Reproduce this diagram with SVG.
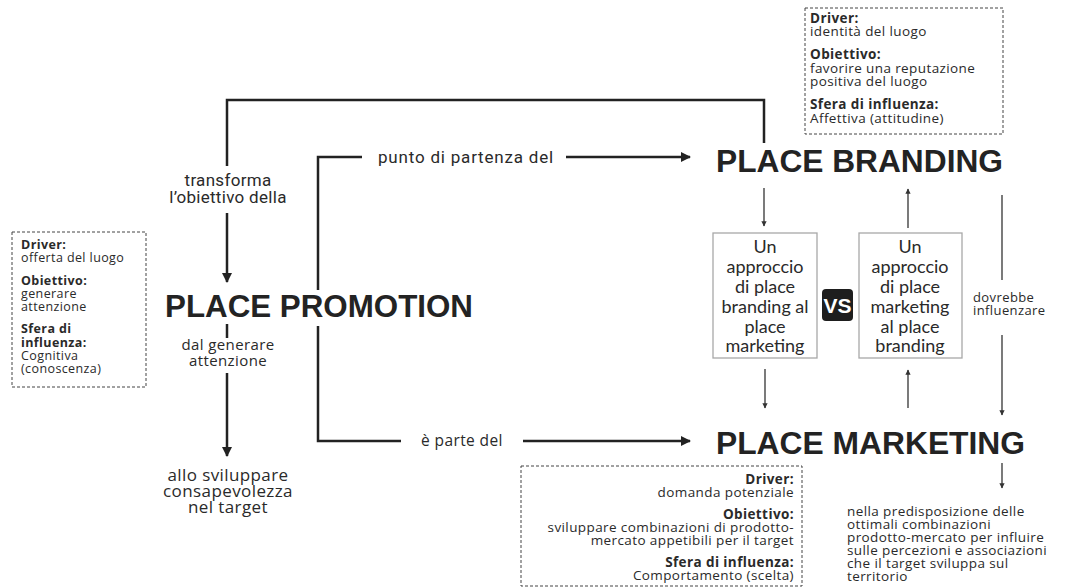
<svg xmlns="http://www.w3.org/2000/svg" width="1075" height="588" viewBox="0 0 1075 588">
<defs>
<style>
.t{font-family:"Open Sans","Noto Sans",sans-serif;fill:#2a2a2a;letter-spacing:0.4px;}
.r{font-family:Roboto,"Liberation Sans",sans-serif;fill:#2a2a2a;}
.b{font-weight:700;}
.h{font-family:"Liberation Sans",Arial,sans-serif;font-weight:700;font-size:31.5px;fill:#232323;}
.g{font-family:Lato,"Open Sans",sans-serif;fill:#2a2a2a;font-size:18px;text-anchor:middle;}
.dash{fill:none;stroke:#444;stroke-width:1;stroke-dasharray:3 2;}
.box{fill:#fff;stroke:#a8a8a8;stroke-width:1.3;}
.thick{fill:none;stroke:#222;stroke-width:2.5;}
.thin{fill:none;stroke:#333;stroke-width:1.3;}
</style>
<marker id="ah" viewBox="0 0 10 10" refX="9" refY="5" markerWidth="4" markerHeight="4" orient="auto" markerUnits="strokeWidth"><path d="M0,0 L10,5 L0,10 z" fill="#222"/></marker>
<marker id="ahs" viewBox="0 0 10 10" refX="9" refY="5" markerWidth="4" markerHeight="4" orient="auto" markerUnits="strokeWidth"><path d="M0,0 L10,5 L0,10 z" fill="#333"/></marker>
</defs>
<rect width="1075" height="588" fill="#fff"/>

<g id="connectors">
<path class="thick" d="M764,143 V100 H227 V166"/>
<path class="thick" d="M227,213 V282" marker-end="url(#ah)"/>
<path class="thick" d="M227,324 V338"/>
<path class="thick" d="M227,373 V456" marker-end="url(#ah)"/>
<path class="thick" d="M362,157 H318 V290"/>
<path class="thick" d="M318,326 V441 H401"/>
<path class="thick" d="M566,157 H690" marker-end="url(#ah)"/>
<path class="thick" d="M523,441 H690" marker-end="url(#ah)"/>
<path class="thin" d="M764,188 V226" marker-end="url(#ahs)"/>
<path class="thin" d="M765,369 V408" marker-end="url(#ahs)"/>
<path class="thin" d="M908,228 V189" marker-end="url(#ahs)"/>
<path class="thin" d="M908,408 V370" marker-end="url(#ahs)"/>
<path class="thin" d="M1002,195 V280"/>
<path class="thin" d="M1002,335 V415" marker-end="url(#ahs)"/>
<path class="thin" d="M1002,463 V488" marker-end="url(#ahs)"/>
</g>

<g id="lbl-transforma">
<text class="r" font-size="17" letter-spacing="0.3" text-anchor="middle" x="228" y="186">transforma</text>
<text class="r" font-size="17" letter-spacing="0.3" text-anchor="middle" x="228" y="203">l’obiettivo della</text>
</g>
<g id="lbl-punto"><text class="r" font-size="17" letter-spacing="0.8" x="378" y="163">punto di partenza del</text></g>
<g id="lbl-parte"><text class="t" font-size="15.5" x="421" y="446">è parte del</text></g>
<g id="lbl-dal">
<text class="t" font-size="15" text-anchor="middle" x="228" y="350">dal generare</text>
<text class="t" font-size="15" text-anchor="middle" x="228" y="366">attenzione</text>
</g>
<g id="lbl-allo">
<text class="t" font-size="17" text-anchor="middle" x="228" y="481">allo sviluppare</text>
<text class="t" font-size="17" text-anchor="middle" x="228" y="497">consapevolezza</text>
<text class="t" font-size="17" text-anchor="middle" x="228" y="513">nel target</text>
</g>
<g id="lbl-dovrebbe">
<text class="t" font-size="13" x="973" y="302">dovrebbe</text>
<text class="t" font-size="13" x="973" y="315">influenzare</text>
</g>

<g id="node-branding"><text class="h" x="716" y="172" textLength="287" lengthAdjust="spacingAndGlyphs">PLACE BRANDING</text></g>
<g id="node-marketing"><text class="h" x="716" y="454" textLength="309" lengthAdjust="spacingAndGlyphs">PLACE MARKETING</text></g>
<g id="node-promotion"><text class="h" x="165" y="317" textLength="308" lengthAdjust="spacingAndGlyphs">PLACE PROMOTION</text></g>

<g id="info-branding">
<rect class="dash" x="805" y="8" width="198" height="126"/>
<text class="t" font-size="13.5" x="810"><tspan class="b" y="23">Driver:</tspan><tspan x="810" y="36">identità del luogo</tspan><tspan class="b" x="810" y="59">Obiettivo:</tspan><tspan x="810" y="73">favorire una reputazione</tspan><tspan x="810" y="86">positiva del luogo</tspan><tspan class="b" x="810" y="109">Sfera di influenza:</tspan><tspan x="810" y="123">Affettiva (attitudine)</tspan></text>
</g>

<g id="info-promotion">
<rect class="dash" x="12" y="232" width="134" height="155"/>
<text class="t" font-size="12.5" x="21"><tspan class="b" y="249">Driver:</tspan><tspan x="21" y="262">offerta del luogo</tspan><tspan class="b" x="21" y="285">Obiettivo:</tspan><tspan x="21" y="298">generare</tspan><tspan x="21" y="311">attenzione</tspan><tspan class="b" x="21" y="333">Sfera di</tspan><tspan class="b" x="21" y="347">influenza:</tspan><tspan x="21" y="360">Cognitiva</tspan><tspan x="21" y="373">(conoscenza)</tspan></text>
</g>

<g id="info-marketing">
<rect class="dash" x="521" y="466" width="281" height="120"/>
<text class="t" font-size="13.5" text-anchor="end" x="794"><tspan class="b" y="484">Driver:</tspan><tspan x="794" y="497">domanda potenziale</tspan><tspan class="b" x="794" y="519">Obiettivo:</tspan><tspan x="794" y="532">sviluppare combinazioni di prodotto-</tspan><tspan x="794" y="545">mercato appetibili per il target</tspan><tspan class="b" x="794" y="567">Sfera di influenza:</tspan><tspan x="794" y="580">Comportamento (scelta)</tspan></text>
</g>

<g id="note-marketing">
<text class="t" font-size="13.5" x="847"><tspan y="516">nella predisposizione delle</tspan><tspan x="847" y="529">ottimali combinazioni</tspan><tspan x="847" y="542">prodotto-mercato per influire</tspan><tspan x="847" y="555">sulle percezioni e associazioni</tspan><tspan x="847" y="568">che il target sviluppa sul</tspan><tspan x="847" y="581">territorio</tspan></text>
</g>

<g id="box-b2m">
<rect class="box" x="713" y="233" width="104" height="125"/>
<text class="g"><tspan x="765" y="253">Un</tspan><tspan x="765" y="273">approccio</tspan><tspan x="765" y="293">di place</tspan><tspan x="765" y="313">branding al</tspan><tspan x="765" y="333">place</tspan><tspan x="765" y="352">marketing</tspan></text>
</g>

<g id="vs">
<rect x="822" y="289" width="31" height="32" rx="4" fill="#1e1e1e"/>
<text x="837.5" y="313" text-anchor="middle" font-family="'Liberation Sans',Arial,sans-serif" font-weight="700" font-size="21" fill="#fff">VS</text>
</g>

<g id="box-m2b">
<rect class="box" x="859" y="233" width="103" height="125"/>
<text class="g"><tspan x="910" y="253">Un</tspan><tspan x="910" y="273">approccio</tspan><tspan x="910" y="293">di place</tspan><tspan x="910" y="313">marketing</tspan><tspan x="910" y="333">al place</tspan><tspan x="910" y="352">branding</tspan></text>
</g>
</svg>
